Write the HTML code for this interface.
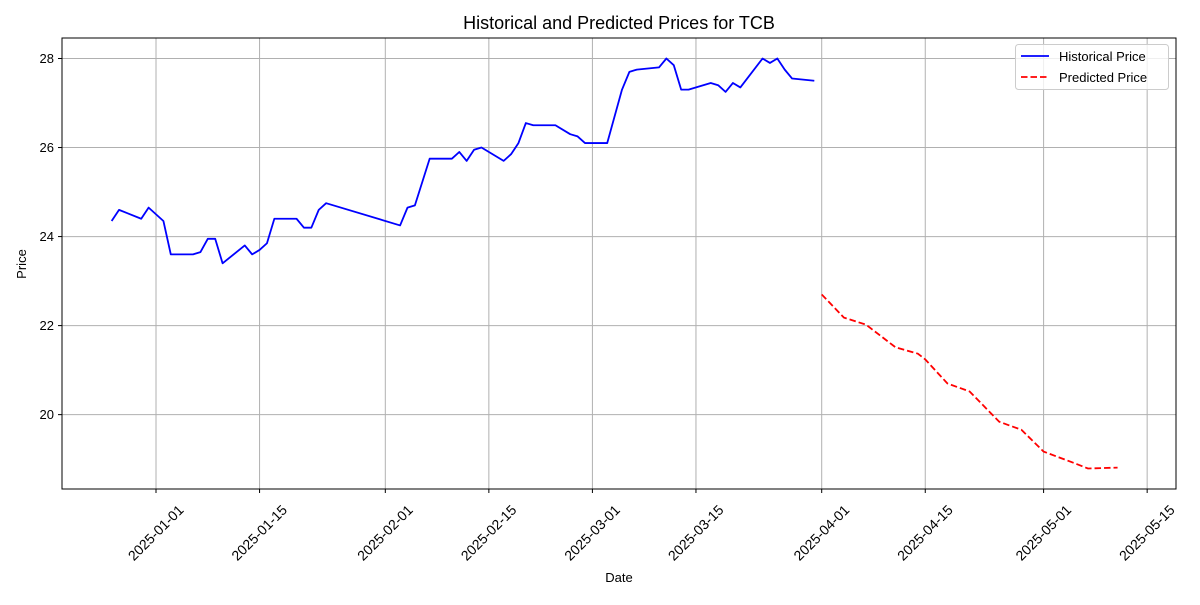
<!DOCTYPE html>
<html><head><meta charset="utf-8"><style>body{margin:0;background:#fff}svg{font-family:"Liberation Sans","DejaVu Sans",sans-serif}</style></head>
<body>
<svg id="c" width="1200" height="600" xmlns="http://www.w3.org/2000/svg"></svg>
<script>
const histDates=["2024-12-26","2024-12-27","2024-12-30","2024-12-31","2025-01-02","2025-01-03","2025-01-06","2025-01-07","2025-01-08","2025-01-09","2025-01-10","2025-01-13","2025-01-14","2025-01-15","2025-01-16","2025-01-17","2025-01-20","2025-01-21","2025-01-22","2025-01-23","2025-01-24","2025-02-03","2025-02-04","2025-02-05","2025-02-07","2025-02-10","2025-02-11","2025-02-12","2025-02-13","2025-02-14","2025-02-17","2025-02-18","2025-02-19","2025-02-20","2025-02-21","2025-02-24","2025-02-26","2025-02-27","2025-02-28","2025-03-03","2025-03-05","2025-03-06","2025-03-07","2025-03-10","2025-03-11","2025-03-12","2025-03-13","2025-03-14","2025-03-17","2025-03-18","2025-03-19","2025-03-20","2025-03-21","2025-03-24","2025-03-25","2025-03-26","2025-03-27","2025-03-28","2025-03-31"];
const histValues=[24.35,24.6,24.4,24.65,24.35,23.6,23.6,23.65,23.95,23.95,23.4,23.8,23.6,23.7,23.85,24.4,24.4,24.2,24.2,24.6,24.75,24.25,24.65,24.7,25.75,25.75,25.9,25.7,25.95,26.0,25.7,25.85,26.1,26.55,26.5,26.5,26.3,26.25,26.1,26.1,27.3,27.7,27.75,27.8,28.0,27.85,27.3,27.3,27.45,27.4,27.25,27.45,27.35,28.0,27.9,28.0,27.75,27.55,27.5];
const predDates=["2025-04-01","2025-04-04","2025-04-07","2025-04-11","2025-04-14","2025-04-15","2025-04-18","2025-04-21","2025-04-25","2025-04-28","2025-05-01","2025-05-05","2025-05-07","2025-05-11"];
const predValues=[22.70,22.18,22.02,21.51,21.37,21.24,20.70,20.52,19.84,19.66,19.17,18.92,18.79,18.81];
const xTicks=["2025-01-01","2025-01-15","2025-02-01","2025-02-15","2025-03-01","2025-03-15","2025-04-01","2025-04-15","2025-05-01","2025-05-15"];
const yTicks=[20,22,24,26,28];

const L=62,R=1176,T=38,B=489;
const day=s=>(Date.parse(s+"T00:00:00Z")-Date.parse("2025-01-01T00:00:00Z"))/864e5;
const allV=histValues.concat(predValues);
const dLo=-12.71,dHi=137.9;
const vmin=Math.min(...allV),vmax=Math.max(...allV),vp=(vmax-vmin)*0.05;
const X=s=>L+(day(s)-dLo)/(dHi-dLo)*(R-L);
const Y=v=>B-(v-(vmin-vp))/((vmax+vp)-(vmin-vp))*(B-T);
const svg=document.getElementById('c');const NS="http://www.w3.org/2000/svg";
function mk(tag,a,p){const e=document.createElementNS(NS,tag);for(const k in a)e.setAttribute(k,a[k]);(p||svg).appendChild(e);return e;}
let e;
e=mk('text',{x:619,y:29,'text-anchor':'middle','font-size':18,fill:'#000'});e.textContent="Historical and Predicted Prices for TCB";


const grid=mk('g',{});


xTicks.forEach(t=>{const x=X(t);
 mk('line',{x1:x,x2:x,y1:T,y2:B,stroke:'#b0b0b0','stroke-width':1},grid);
 mk('line',{x1:x,x2:x,y1:B,y2:B+4,stroke:'#000'});
 e=mk('text',{x:0,y:4.5,'font-size':14,'text-anchor':'middle',transform:`translate(${x},${B+44}) rotate(-45)`});e.textContent=t;
 
 
});
yTicks.forEach(v=>{const y=Y(v);
 mk('line',{x1:L,x2:R,y1:y,y2:y,stroke:'#b0b0b0','stroke-width':1},grid);
 mk('line',{x1:L-4,x2:L,y1:y,y2:y,stroke:'#000'});
 e=mk('text',{x:L-8,y:y+4.5,'font-size':13,'text-anchor':'end'});e.textContent=v;
 
 
});
e=mk('polyline',{points:histDates.map((d,i)=>X(d)+','+Y(histValues[i])).join(' '),fill:'none',stroke:'#0000ff','stroke-width':1.8,'stroke-linejoin':'round'});


e=mk('polyline',{points:predDates.map((d,i)=>X(d)+','+Y(predValues[i])).join(' '),fill:'none',stroke:'#ff0000','stroke-width':1.8,'stroke-dasharray':'6.5,3'});


e=mk('rect',{x:L,y:T,width:R-L,height:B-T,fill:'none',stroke:'#000','stroke-width':1});


e=mk('text',{x:619,y:582,'text-anchor':'middle','font-size':13});e.textContent="Date";


e=mk('text',{x:0,y:0,'text-anchor':'middle','font-size':13,transform:'translate(26,264) rotate(-90)'});e.textContent="Price";


const lg=mk('g',{});


mk('rect',{x:1015.5,y:44.5,width:153,height:45,rx:3,fill:'#fff','fill-opacity':0.8,stroke:'#ccc'},lg);
mk('line',{x1:1021,x2:1049,y1:56,y2:56,stroke:'#0000ff','stroke-width':1.8},lg);
mk('line',{x1:1021,x2:1049,y1:77,y2:77,stroke:'#ff0000','stroke-width':1.8,'stroke-dasharray':'6.5,3'},lg);
e=mk('text',{x:1059,y:61,'font-size':13},lg);e.textContent="Historical Price";


e=mk('text',{x:1059,y:82,'font-size':13},lg);e.textContent="Predicted Price";


</script>
</body></html>
